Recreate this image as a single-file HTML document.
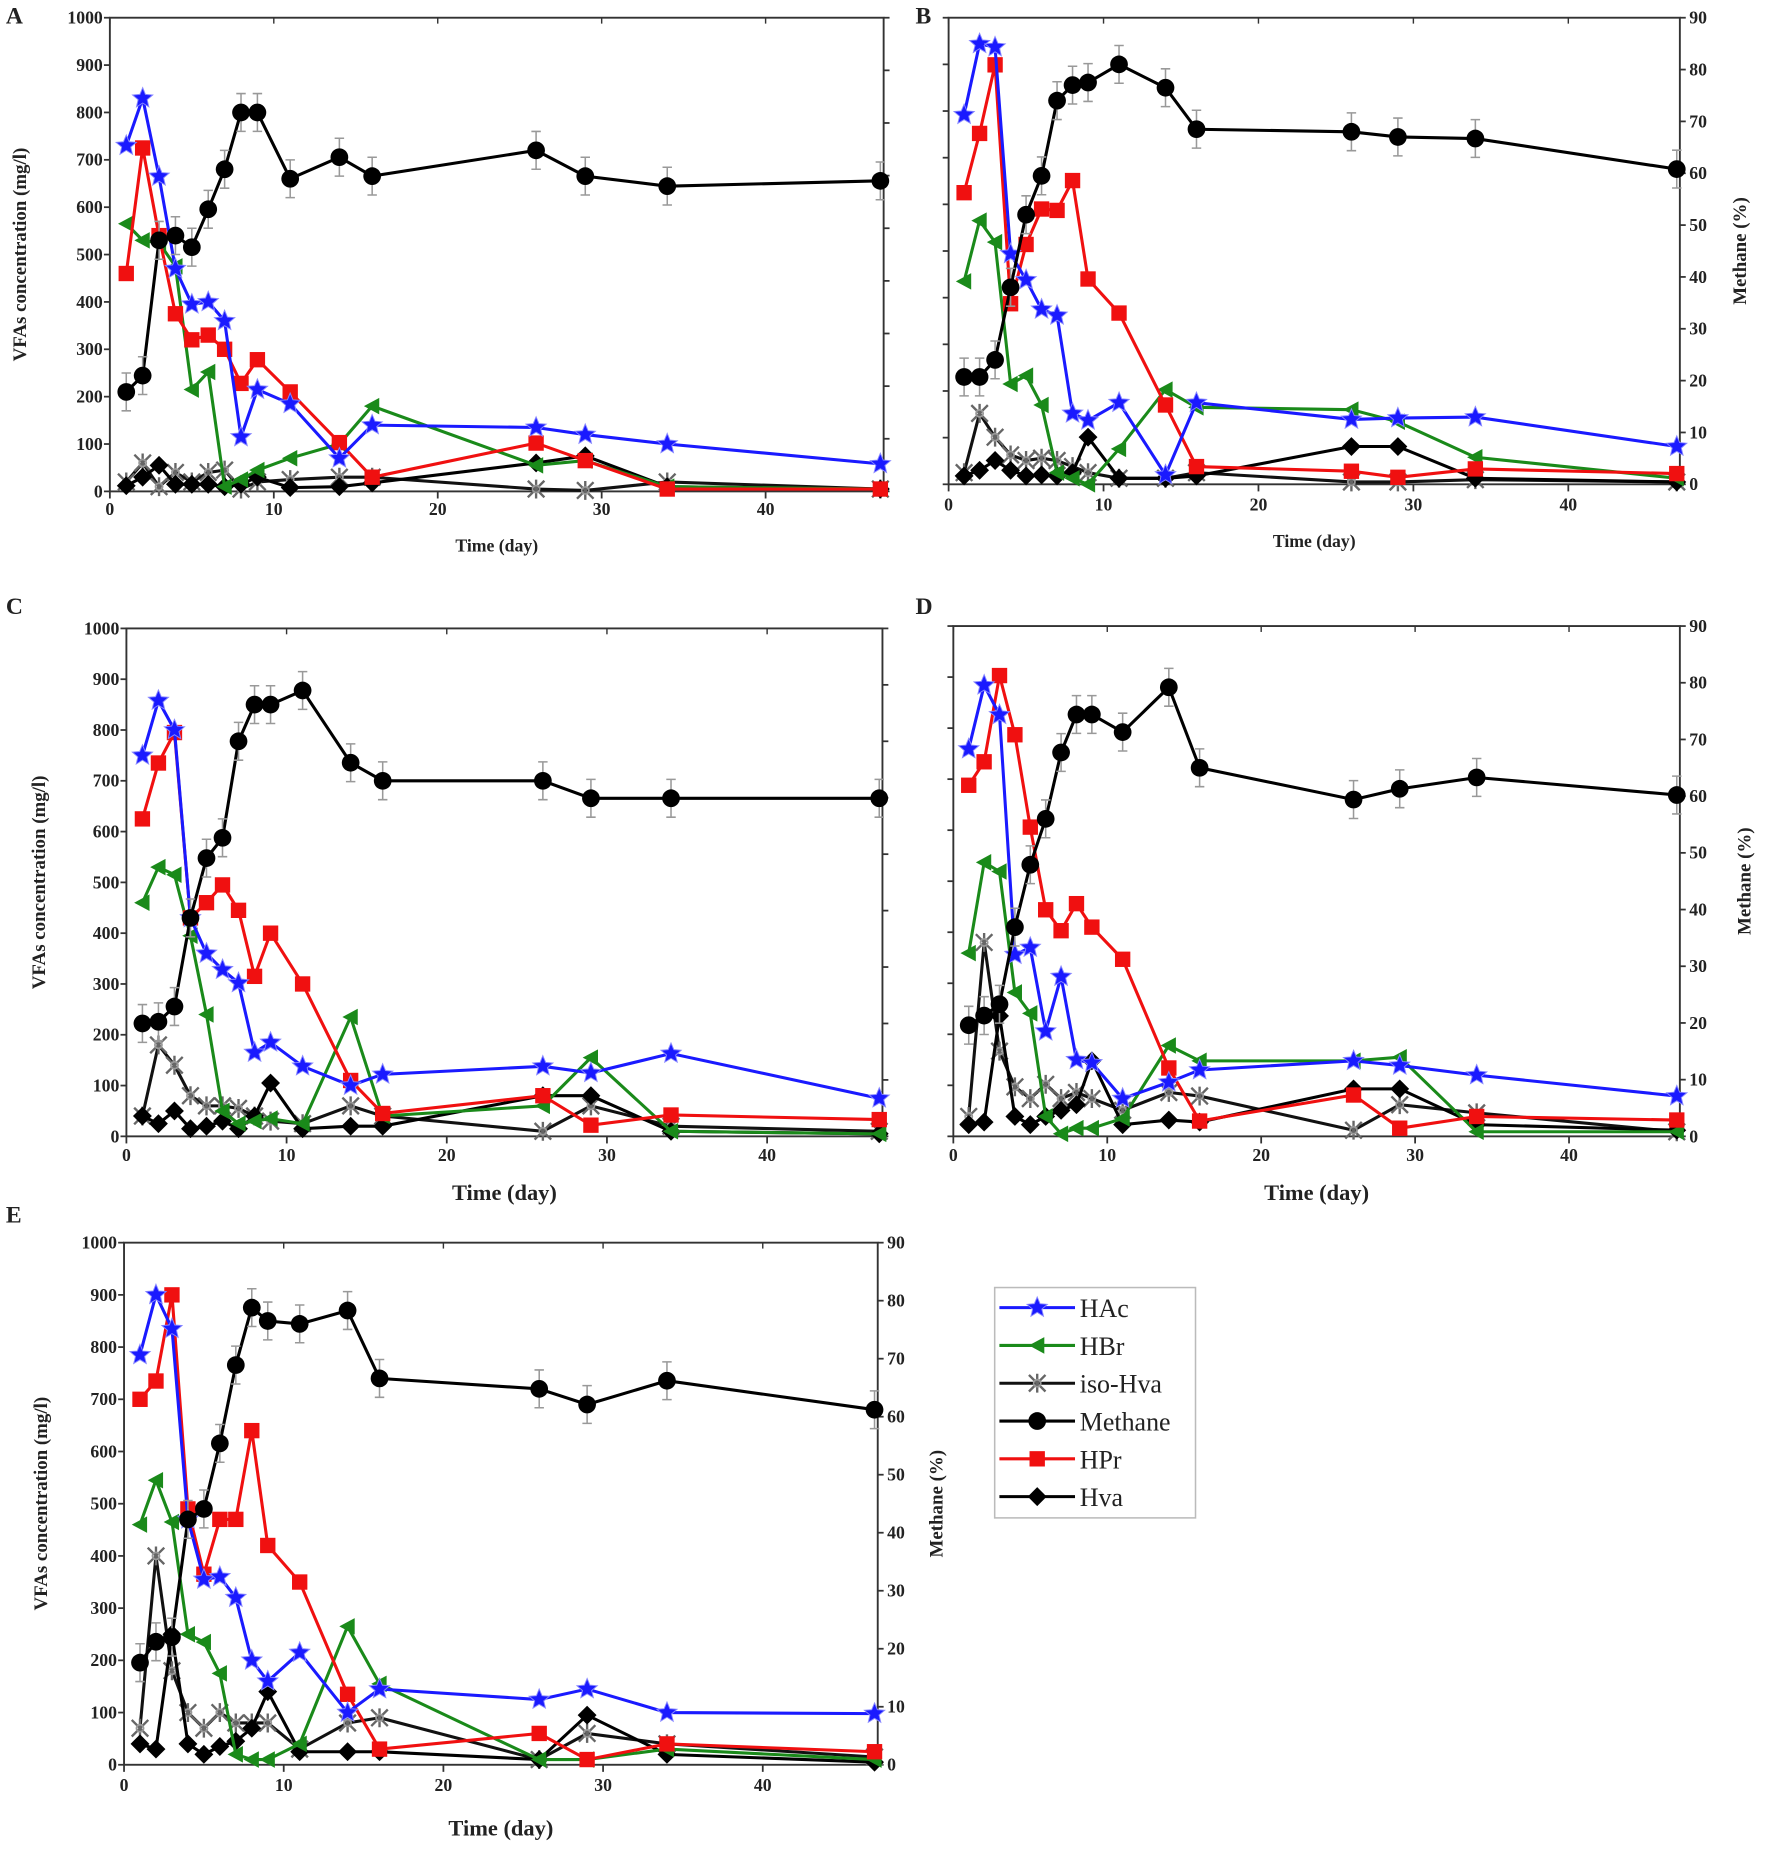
<!DOCTYPE html>
<html><head><meta charset="utf-8"><style>
html,body{margin:0;padding:0;background:#fff;}
svg{display:block;}
text{font-family:"Liberation Serif",serif;font-weight:bold;fill:#222;}
</style></head><body>
<svg id="fig" width="1772" height="1851" viewBox="0 0 1500 1567" preserveAspectRatio="none" xmlns="http://www.w3.org/2000/svg"></svg>
<script>
const days = [1,2,3,4,5,6,7,8,9,11,14,16,26,29,34,47];
const xTicks = [0,10,20,30,40];
const yTicksLeft = [0,100,200,300,400,500,600,700,800,900,1000];
const yTicksRight = [0,10,20,30,40,50,60,70,80,90];

const hacA = [730,830,665,470,395,400,360,115,215,185,70,140,135,120,100,58];
const hprA = [460,725,540,375,320,330,300,228,278,210,103,30,102,65,5,5];
const hbrA = [565,530,525,475,215,252,10,25,45,70,100,180,55,65,10,5];
const isoA = [20,60,10,40,20,40,45,5,20,25,30,30,5,2,20,5];
const hvaA = [12,30,55,15,15,15,10,15,30,8,10,18,60,75,10,5];
const metA = [18.9,22,47.7,48.6,46.4,53.6,61.2,72,72,59.4,63.5,59.9,64.8,59.9,58,59];

const hacB = [792,944,937,494,438,375,362,152,137,175,20,175,139,142,144,81];
const hprB = [625,752,899,387,514,590,587,651,440,367,170,38,28,15,33,23];
const hbrB = [435,565,519,215,233,170,25,13,0,76,203,165,160,134,58,13];
const isoB = [25,152,101,63,51,56,51,38,25,13,13,25,5,5,10,5];
const hvaB = [18,30,51,30,18,20,18,25,101,13,13,18,81,81,13,5];
const metB = [20.7,20.7,24,38,52,59.5,74,77,77.5,81,76.5,68.5,68,67,66.7,60.8];

const hacC = [750,858,800,430,360,328,302,165,185,138,100,122,138,125,163,75];
const hprC = [625,735,795,430,460,495,445,315,400,300,110,45,80,22,42,33];
const hbrC = [460,530,515,395,240,50,25,30,35,25,235,40,60,155,10,5];
const isoC = [40,180,140,80,60,60,55,40,30,25,60,40,10,60,20,10];
const hvaC = [40,25,50,15,20,30,15,40,105,15,20,20,80,80,10,5];
const metC = [20,20.3,23,38.7,49.3,52.9,70,76.5,76.5,79,66.2,63,63,59.9,59.9,59.9];

const hacD = [759,884,826,356,370,206,313,150,144,74,106,130,148,139,120,79];
const hprD = [688,734,903,787,606,444,403,456,410,347,134,30,81,16,39,32];
const hbrD = [359,537,519,282,241,39,5,16,16,35,178,148,148,155,9,9];
const isoD = [39,380,167,97,74,102,74,86,74,51,86,79,12,62,46,9];
const hvaD = [23,28,236,39,23,39,51,62,148,23,32,28,93,93,23,12];
const metD = [19.6,21.3,23.3,36.9,47.9,56,67.7,74.4,74.4,71.3,79.2,65,59.4,61.3,63.3,60.2];

const hacE = [785,900,835,470,355,360,320,200,160,215,100,145,125,145,100,98];
const hprE = [700,735,900,490,365,470,470,640,420,350,135,30,60,10,40,25];
const hbrE = [460,545,465,250,235,175,20,10,10,40,265,155,10,10,30,10];
const isoE = [70,400,180,100,70,100,80,80,80,30,80,90,10,60,40,15];
const hvaE = [40,30,250,40,20,35,45,70,140,25,25,25,10,95,20,5];
const metE = [17.6,21.2,22,42.3,44.1,55.4,68.9,78.8,76.5,76,78.3,66.6,64.8,62.1,66.2,61.2];

const svg = document.getElementById('fig');
const NS = 'http://www.w3.org/2000/svg';
function mk(tag, attrs, parent){const e=document.createElementNS(NS,tag);for(const k in attrs)e.setAttribute(k,attrs[k]);(parent||svg).appendChild(e);return e;}

const panels = [
 {id:'A',L:93,R:748,T:15,B:416,xmax:47.2,leftLab:true,rightLab:false,lx:5,ly:20,xLabY:436,xTitleY:467,yTitleX:22,rTitleX:null,d:[hacA,hprA,hbrA,isoA,hvaA,metA]},
 {id:'B',L:803,R:1422,T:15,B:410,xmax:47.2,leftLab:false,rightLab:true,lx:775,ly:20,xLabY:432,xTitleY:463,yTitleX:null,rTitleX:1478,d:[hacB,hprB,hbrB,isoB,hvaB,metB]},
 {id:'C',L:107,R:747,T:532,B:962,xmax:47.2,leftLab:true,rightLab:false,lx:5,ly:520,xLabY:983,xTitleY:1016,yTitleX:38,rTitleX:null,d:[hacC,hprC,hbrC,isoC,hvaC,metC]},
 {id:'D',L:807,R:1422,T:530,B:962,xmax:47.2,leftLab:false,rightLab:true,lx:775,ly:520,xLabY:983,xTitleY:1016,yTitleX:null,rTitleX:1482,d:[hacD,hprD,hbrD,isoD,hvaD,metD]},
 {id:'E',L:105,R:743,T:1052,B:1494,xmax:47.2,leftLab:true,rightLab:true,lx:5,ly:1035,xLabY:1516,xTitleY:1554,yTitleX:40,rTitleX:798,d:[hacE,hprE,hbrE,isoE,hvaE,metE]}
];

function star(g,x,y,r,col){let p=[];for(let i=0;i<10;i++){const a=-Math.PI/2+i*Math.PI/5;const rr=i%2?r*0.45:r;p.push((x+rr*Math.cos(a)).toFixed(1)+','+(y+rr*Math.sin(a)).toFixed(1));}const e=mk('polygon',{points:p.join(' '),fill:col,stroke:'#88f','stroke-width':0.8},g);return e;}
function marker(g,type,x,y){
 let e;
 if(type==='hac') e=star(g,x,y,9,'#1a1aff');
 else if(type==='hpr') e=mk('rect',{x:x-6.5,y:y-6.5,width:13,height:13,fill:'#f01010'},g);
 else if(type==='hbr') e=mk('polygon',{points:`${x-7},${y} ${x+6},${y-7} ${x+6},${y+7}`,fill:'#1a8a1a'},g);
 else if(type==='iso'){e=mk('g',{},g);mk('path',{d:`M${x-7},${y-7}L${x+7},${y+7}M${x-7},${y+7}L${x+7},${y-7}M${x},${y-8}L${x},${y+8}`,stroke:'#666','stroke-width':2,fill:'none'},e);mk('circle',{cx:x,cy:y,r:3,fill:'none',stroke:'#999','stroke-width':1.5},e);}
 else if(type==='hva') e=mk('polygon',{points:`${x},${y-8} ${x+8},${y} ${x},${y+8} ${x-8},${y}`,fill:'#000'},g);
 else e=mk('circle',{cx:x,cy:y,r:7.5,fill:'#000'},g);
 return e;
}
const series=[['hac','#1a1aff'],['hpr','#f01010'],['hbr','#1a8a1a'],['iso','#111'],['hva','#000'],['met','#000']];

panels.forEach(p=>{
 const g=mk('g',{});
 
 
 const xs=v=>p.L+(p.R-p.L)*v/p.xmax;
 const yl=v=>p.B-(p.B-p.T)*v/1000;
 const yr=v=>p.B-(p.B-p.T)*v/90;
 const fr=mk('rect',{x:p.L,y:p.T,width:p.R-p.L,height:p.B-p.T,fill:'none',stroke:'#333','stroke-width':1.6},g);
 
 
 const pl=mk('text',{x:p.lx,y:p.ly,'font-size':20,'font-family':'Liberation Sans'},g);
 pl.textContent=p.id;
 
 
 xTicks.forEach(t=>{
  const x=xs(t);
  mk('line',{x1:x,x2:x,y1:p.B,y2:p.B+6,stroke:'#333','stroke-width':1.5},g);
  mk('line',{x1:x,x2:x,y1:p.T,y2:p.T+5,stroke:'#333','stroke-width':1.2},g);
  const tx=mk('text',{x:x,y:p.xLabY,'font-size':15,'text-anchor':'middle'},g);
  tx.textContent=t;
  
  
 });
 yTicksLeft.forEach(t=>{
  const y=yl(t);
  mk('line',{x1:p.L-5,x2:p.L,y1:y,y2:y,stroke:'#333','stroke-width':1.5},g);
  if(p.leftLab){
   const tx=mk('text',{x:p.L-6,y:y+5,'font-size':15,'text-anchor':'end'},g);
   tx.textContent=t;
   
   
  }
 });
 yTicksRight.forEach(t=>{
  const y=yr(t);
  mk('line',{x1:p.R,x2:p.R+5,y1:y,y2:y,stroke:'#333','stroke-width':1.5},g);
  if(p.rightLab){
   const tx=mk('text',{x:p.R+8,y:y+5,'font-size':15},g);
   tx.textContent=t;
   
   
  }
 });
 const xt=mk('text',{x:(p.L+p.R)/2,y:p.xTitleY,'font-size':p.id==='A'||p.id==='B'?15:19,'text-anchor':'middle'},g);
 xt.textContent='Time (day)';
 
 
 if(p.yTitleX){
  const yt=mk('text',{x:p.yTitleX,y:(p.T+p.B)/2,'font-size':16,'text-anchor':'middle',transform:`rotate(-90 ${p.yTitleX} ${(p.T+p.B)/2})`},g);
  yt.textContent='VFAs concentration (mg/l)';
  
  
 }
 if(p.rTitleX){
  const rt=mk('text',{x:p.rTitleX,y:(p.T+p.B)/2,'font-size':16,'text-anchor':'middle',transform:`rotate(-90 ${p.rTitleX} ${(p.T+p.B)/2})`},g);
  rt.textContent='Methane (%)';
  
  
 }
 // draw order: iso, hva, hbr, hpr, hac, methane
 [3,4,2,1,0,5].forEach(si=>{
  const [type,col]=series[si];
  const vals=p.d[si];
  const yf=type==='met'?yr:yl;
  const sg=mk('g',{},g);
  
  
  const pts=days.map((d,i)=>xs(d).toFixed(1)+','+yf(vals[i]).toFixed(1)).join(' ');
  const ln=mk('polyline',{points:pts,fill:'none',stroke:col,'stroke-width':2.6},sg);
  
  
  days.forEach((d,i)=>{
   const x=xs(d),y=yf(vals[i]);
   if(type==='met'){mk('path',{d:`M${x},${y-16}V${y+16}M${x-4},${y-16}H${x+4}M${x-4},${y+16}H${x+4}`,stroke:'#999','stroke-width':1.3,fill:'none'},sg);}
   const m=marker(sg,type,x,y);
   
   
  });
 });
});

// legend
const lg=mk('g',{});


mk('rect',{x:842,y:1090,width:170,height:195,fill:'#fff',stroke:'#bbb','stroke-width':1.3},lg);
const legNames=['HAc','HBr','iso-Hva','Methane','HPr','Hva'];
const legTypes=['hac','hbr','iso','met','hpr','hva'];
const legCols=['#1a1aff','#1a8a1a','#111','#000','#f01010','#000'];
legNames.forEach((n,i)=>{
 const y=1107+i*32;
 const eg=mk('g',{},lg);
 
 
 mk('line',{x1:846,x2:910,y1:y,y2:y,stroke:legCols[i],'stroke-width':2.6},eg);
 marker(eg,legTypes[i],878,y);
 const t=mk('text',{x:914,y:y+8,'font-size':22,'font-weight':'normal',style:'font-weight:normal'},eg);
 t.textContent=n;
});
</script>
</body></html>
